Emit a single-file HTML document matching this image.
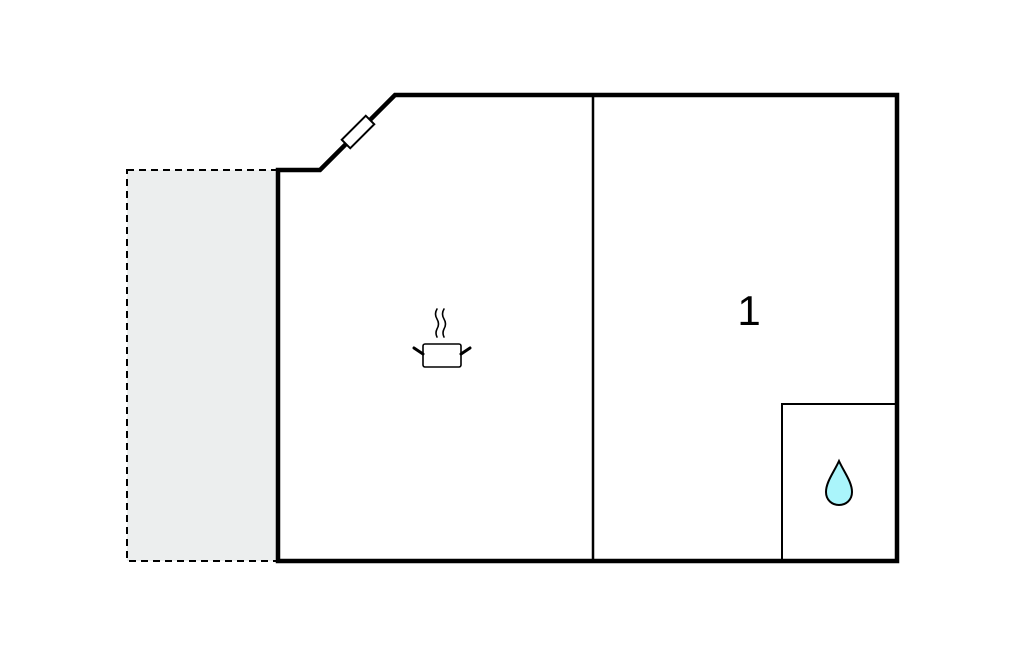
<!DOCTYPE html>
<html><head><meta charset="utf-8"><style>html,body{margin:0;padding:0;background:#fff;}svg{display:block}</style></head>
<body>
<svg width="1024" height="652" viewBox="0 0 1024 652" xmlns="http://www.w3.org/2000/svg">
<rect x="127" y="170" width="151" height="391" fill="#eceeee" stroke="#000" stroke-width="2" stroke-dasharray="7,5"/>
<line x1="593" y1="95" x2="593" y2="561" stroke="#000" stroke-width="2.5"/>
<polyline points="782,561 782,404 897,404" fill="none" stroke="#000" stroke-width="2"/>
<polygon points="278,170 320,170 395,95 897,95 897,561 278,561" fill="none" stroke="#000" stroke-width="4.5" stroke-linejoin="miter"/>
<g transform="translate(358,132) rotate(-45)">
<rect x="-17" y="-6" width="34" height="12" fill="#fff" stroke="#000" stroke-width="2"/>
</g>
<text x="749" y="325" font-family="Liberation Sans, sans-serif" font-size="42" text-anchor="middle" fill="#000">1</text>
<g fill="none" stroke="#000" stroke-width="1.6" stroke-linecap="round">
<rect x="423" y="344" width="38" height="23" rx="2"/>
<line x1="414" y1="348" x2="423" y2="354" stroke-width="3"/>
<line x1="470" y1="348" x2="461" y2="354" stroke-width="3"/>
<path d="M437,309 q-3,5 0,10 q3,5 0,10 q-2,4 0,8"/>
<path d="M444,309 q-3,5 0,10 q3,5 0,10 q-2,4 0,8"/>
</g>
<path d="M839,461 C834,472 826,482 826,492 C826,500 832,505 839,505 C846,505 852,500 852,492 C852,482 844,472 839,461 Z" fill="#aaf5fb" stroke="#000" stroke-width="2"/>
</svg>
</body></html>
